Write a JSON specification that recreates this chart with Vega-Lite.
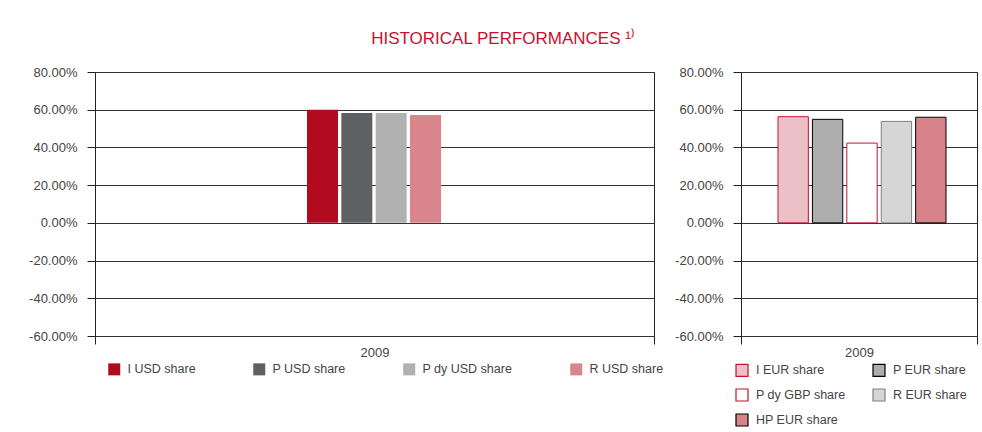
{
  "$schema": "https://vega.github.io/schema/vega-lite/v6.json",
  "padding": {"left": 28, "top": 29, "right": 5, "bottom": 5},
  "background": "white",
  "title": {
    "text": "HISTORICAL PERFORMANCES ¹⁾",
    "color": "#C8102E",
    "font": "Liberation Sans",
    "fontSize": 17,
    "fontWeight": "normal",
    "anchor": "middle",
    "offset": 18
  },
  "datasets": {
    "usd": [
      {"year": "2009", "series": "I USD share", "value": 0.600},
      {"year": "2009", "series": "P USD share", "value": 0.582},
      {"year": "2009", "series": "P dy USD share", "value": 0.582},
      {"year": "2009", "series": "R USD share", "value": 0.572}
    ],
    "eur": [
      {"year": "2009", "series": "I EUR share", "value": 0.563},
      {"year": "2009", "series": "P EUR share", "value": 0.549},
      {"year": "2009", "series": "P dy GBP share", "value": 0.423},
      {"year": "2009", "series": "R EUR share", "value": 0.538},
      {"year": "2009", "series": "HP EUR share", "value": 0.560}
    ]
  },
  "resolve": {
    "scale": {"xOffset": "independent", "color": "independent", "fill": "independent", "stroke": "independent", "y": "independent", "x": "independent"},
    "legend": {"color": "independent", "fill": "independent", "stroke": "independent"}
  },
  "hconcat": [
    {
      "width": 559,
      "height": 264,
      "data": {"name": "usd"},
      "mark": {"type": "bar", "strokeWidth": 0},
      "encoding": {
        "x": {
          "field": "year", "type": "nominal",
          "scale": {"paddingInner": 0, "paddingOuter": 0},
          "axis": {"title": null, "tickBand": "extent", "labelAngle": 0, "domain": false, "tickSize": 8, "labelPadding": 2}
        },
        "xOffset": {
          "field": "series", "type": "nominal",
          "scale": {"domain": ["I USD share", "P USD share", "P dy USD share", "R USD share"], "paddingInner": 0.097, "paddingOuter": 0, "range": [212, 346]}
        },
        "y": {
          "field": "value", "type": "quantitative",
          "scale": {"domain": [-0.6, 0.8], "nice": false, "zero": false},
          "axis": {"title": null, "labelExpr": "replace(format(datum.value, '.2%'), '\u2212', '-')", "values": [-0.6, -0.4, -0.2, 0, 0.2, 0.4, 0.6, 0.8], "grid": true}
        },
        "color": {
          "field": "series", "type": "nominal",
          "scale": {
            "domain": ["I USD share", "P USD share", "P dy USD share", "R USD share"],
            "range": ["#B20A1E", "#5F6062", "#B1B1B1", "#DA848C"]
          },
          "legend": {
            "title": null, "orient": "none", "direction": "horizontal", "columns": 4,
            "legendX": 13, "legendY": 291, "columnPadding": 57,
            "symbolStrokeWidth": 0
          }
        }
      }
    },
    {
      "width": 236,
      "height": 264,
      "data": {"name": "eur"},
      "mark": {"type": "bar", "strokeWidth": 1},
      "encoding": {
        "x": {
          "field": "year", "type": "nominal",
          "scale": {"paddingInner": 0, "paddingOuter": 0},
          "axis": {"title": null, "tickBand": "extent", "labelAngle": 0, "domain": false, "tickSize": 8, "labelPadding": 2}
        },
        "xOffset": {
          "field": "series", "type": "nominal",
          "scale": {"domain": ["I EUR share", "P EUR share", "P dy GBP share", "R EUR share", "HP EUR share"], "paddingInner": 0.118, "paddingOuter": 0, "range": [37, 205]}
        },
        "y": {
          "field": "value", "type": "quantitative",
          "scale": {"domain": [-0.6, 0.8], "nice": false, "zero": false},
          "axis": {"title": null, "labelExpr": "replace(format(datum.value, '.2%'), '\u2212', '-')", "values": [-0.6, -0.4, -0.2, 0, 0.2, 0.4, 0.6, 0.8], "grid": true}
        },
        "fill": {
          "field": "series", "type": "nominal",
          "scale": {
            "domain": ["I EUR share", "P EUR share", "P dy GBP share", "R EUR share", "HP EUR share"],
            "range": ["#EBC0C6", "#ADADAD", "#FFFFFF", "#D6D6D6", "#D6838A"]
          },
          "legend": {
            "title": null, "orient": "none", "direction": "horizontal", "columns": 2,
            "legendX": -6, "legendY": 291, "columnPadding": 24, "rowPadding": 7,
            "symbolStrokeWidth": 1.2
          }
        },
        "stroke": {
          "field": "series", "type": "nominal",
          "scale": {
            "domain": ["I EUR share", "P EUR share", "P dy GBP share", "R EUR share", "HP EUR share"],
            "range": ["#C8102E", "#000000", "#C8102E", "#808080", "#000000"]
          },
          "legend": {
            "title": null, "orient": "none", "direction": "horizontal", "columns": 2,
            "legendX": -6, "legendY": 291, "columnPadding": 24, "rowPadding": 7,
            "symbolStrokeWidth": 1.2
          }
        }
      }
    }
  ],
  "spacing": 87,
  "bounds": "flush",
  "config": {
    "font": "Liberation Sans",
    "view": {"stroke": "#222222", "strokeWidth": 1},
    "axis": {
      "labelFont": "Liberation Sans",
      "labelFontSize": 13,
      "labelColor": "#444444",
      "tickColor": "#222222",
      "tickSize": 8,
      "labelPadding": 10,
      "domainColor": "#222222",
      "gridColor": "#333333",
      "gridOpacity": 1,
      "gridWidth": 1
    },
    "legend": {
      "labelFont": "Liberation Sans",
      "labelFontSize": 12.5,
      "labelColor": "#444444",
      "symbolType": "square",
      "symbolSize": 144,
      "labelOffset": 7,
      "padding": 0
    }
  }
}
